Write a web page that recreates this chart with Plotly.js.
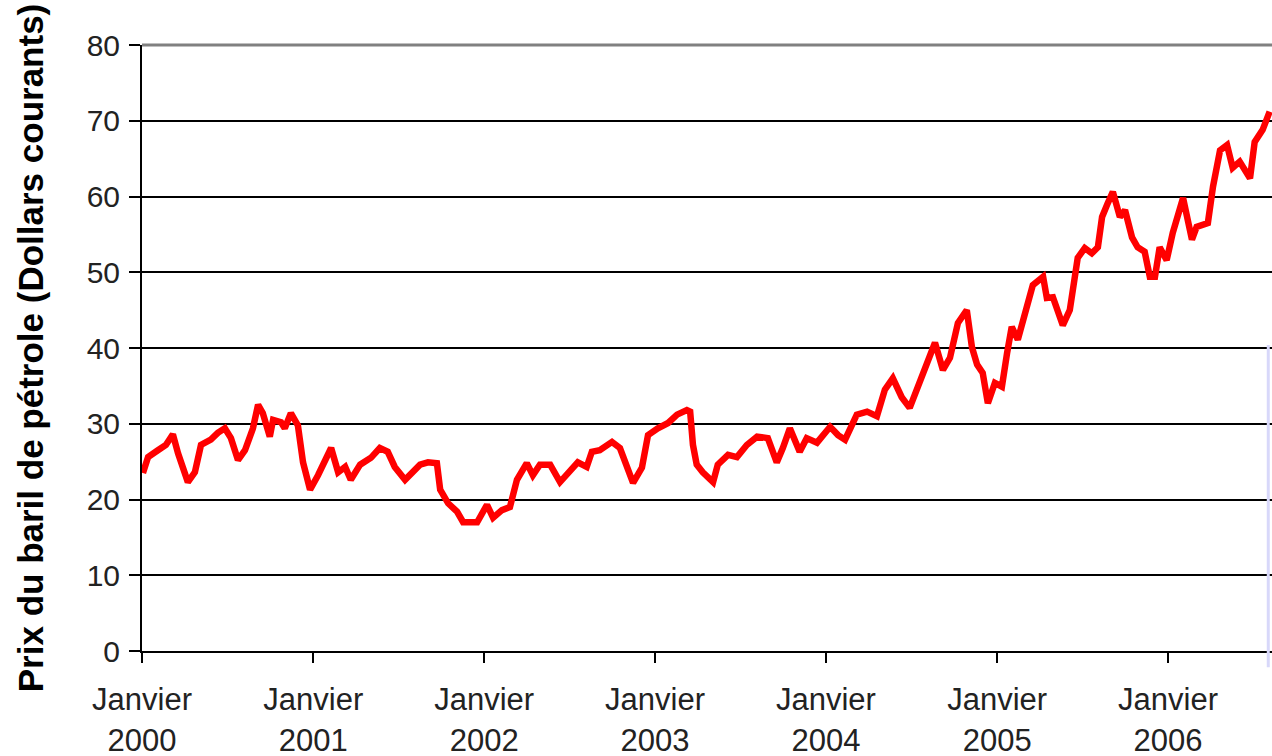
<!DOCTYPE html>
<html>
<head>
<meta charset="utf-8">
<script src="https://cdn.plot.ly/plotly-3.0.1.min.js"></script>
<style>
  html, body { margin: 0; padding: 0; background: #ffffff; }
  #chart { width: 1272px; height: 756px; }
</style>
</head>
<body>
<div id="chart"></div>
<script>
// Prix du baril de pétrole (dollars courants)
const dates = [
  "2000-01-03","2000-01-14","2000-02-04","2000-02-21","2000-03-07","2000-03-18","2000-04-08","2000-04-23",
  "2000-05-06","2000-05-27","2000-06-11","2000-06-26","2000-07-09","2000-07-24","2000-08-08","2000-08-25",
  "2000-09-05","2000-09-15","2000-09-30","2000-10-07","2000-10-24","2000-11-01","2000-11-14","2000-11-29",
  "2000-12-10","2000-12-25","2001-01-11","2001-01-26","2001-02-08","2001-02-23","2001-03-10","2001-03-22",
  "2001-04-11","2001-05-04","2001-05-23","2001-06-09","2001-06-24","2001-07-16","2001-07-31","2001-08-17",
  "2001-09-03","2001-09-22","2001-09-29","2001-10-16","2001-11-04","2001-11-17","2001-12-17","2002-01-07",
  "2002-01-20","2002-02-08","2002-02-25","2002-03-12","2002-04-02","2002-04-15","2002-04-30","2002-05-22",
  "2002-06-12","2002-07-03","2002-07-20","2002-08-08","2002-08-19","2002-09-05","2002-10-01","2002-10-18",
  "2002-11-02","2002-11-15","2002-12-04","2002-12-17","2003-01-07","2003-01-29","2003-02-17","2003-03-10",
  "2003-03-17","2003-03-23","2003-03-31","2003-04-13","2003-05-05","2003-05-15","2003-06-06","2003-06-25",
  "2003-07-16","2003-08-07","2003-08-30","2003-09-18","2003-10-01","2003-10-16","2003-11-06","2003-11-21",
  "2003-12-13","2004-01-10","2004-01-27","2004-02-11","2004-03-07","2004-03-29","2004-04-19","2004-05-06",
  "2004-05-23","2004-06-11","2004-06-28","2004-07-16","2004-08-04","2004-08-21","2004-09-07","2004-09-22",
  "2004-10-09","2004-10-28","2004-11-08","2004-11-19","2004-12-01","2004-12-12","2004-12-27","2005-01-11",
  "2005-01-22","2005-02-01","2005-02-14","2005-03-05","2005-03-18","2005-04-09","2005-04-17","2005-04-30",
  "2005-05-21","2005-06-05","2005-06-16","2005-06-22","2005-07-07","2005-07-22","2005-08-04","2005-08-13",
  "2005-08-25","2005-09-05","2005-09-20","2005-10-01","2005-10-16","2005-10-28","2005-11-12","2005-11-23",
  "2005-12-04","2005-12-14","2005-12-29","2006-01-11","2006-02-02","2006-02-21","2006-03-03","2006-03-27",
  "2006-04-07","2006-04-22","2006-05-07","2006-05-19","2006-06-03","2006-06-25","2006-07-05","2006-07-22",
  "2006-08-06"
];
const prices = [
  23.5,25.6,26.5,27.2,28.6,26.1,22.3,23.6,
  27.2,27.9,28.8,29.4,28.1,25.2,26.5,29.4,
  32.5,31.4,28.3,30.5,30.2,29.4,31.4,29.8,
  24.9,21.3,23.2,24.9,26.8,23.6,24.3,22.6,
  24.6,25.5,26.8,26.3,24.3,22.6,23.6,24.6,
  24.9,24.8,21.3,19.5,18.4,17.0,17.0,19.3,
  17.6,18.6,19.0,22.6,24.8,23.2,24.6,24.6,
  22.3,23.9,24.9,24.3,26.3,26.5,27.6,26.8,
  24.6,22.2,24.2,28.5,29.4,30.1,31.2,31.8,
  31.6,27.2,24.6,23.6,22.3,24.6,25.9,25.6,
  27.2,28.3,28.1,24.9,26.8,29.4,26.3,28.1,
  27.5,29.6,28.5,27.9,31.2,31.6,31.0,34.5,
  36.0,33.5,32.1,34.9,38.0,40.7,37.1,38.7,
  43.3,45.0,40.1,37.8,36.7,32.7,35.4,34.9,
  39.3,42.8,41.1,45.9,48.3,49.4,46.6,46.7,
  43.0,45.0,49.0,51.9,53.2,52.5,53.3,57.3,
  59.1,60.6,57.3,58.2,54.6,53.3,52.7,49.4,
  49.4,53.3,51.6,55.2,59.8,54.3,56.0,56.5,
  61.3,66.1,66.8,63.8,64.6,62.4,67.2,68.8,
  71.2
];
const tickVals = ["2000-01-01","2001-01-01","2002-01-01","2003-01-01","2004-01-01","2005-01-01","2006-01-01"];
const tickText = ["Janvier<br>2000","Janvier<br>2001","Janvier<br>2002","Janvier<br>2003","Janvier<br>2004","Janvier<br>2005","Janvier<br>2006"];
const yTicks = [0,10,20,30,40,50,60,70,80];
const xStart = "2000-01-01";
const xEnd = "2006-08-11";
const yTitle = "Prix du baril de pétrole (Dollars courants)";

const trace = {
  x: dates, y: prices, type: "scatter", mode: "lines",
  line: { color: "#ff0000", width: 6.5 },
  hoverinfo: "skip"
};

const layout = {
  width: 1272, height: 756,
  margin: { l: 142, r: 0, t: 45, b: 105 },
  paper_bgcolor: "#ffffff",
  plot_bgcolor: "#ffffff",
  showlegend: false,
  font: { family: "Liberation Sans, Arial, sans-serif", color: "#222222" },
  xaxis: {
    type: "date",
    range: [xStart, xEnd],
    tickvals: tickVals,
    ticktext: tickText,
    ticks: "outside", ticklen: 10, tickwidth: 2, tickcolor: "#000000",
    ticklabelstandoff: 10,
    showgrid: false, zeroline: false,
    showline: true, linecolor: "#000000", linewidth: 2,
    tickfont: { size: 31, color: "#222222" }
  },
  yaxis: {
    range: [0, 80],
    tickvals: yTicks,
    ticks: "outside", ticklen: 11, tickwidth: 2, tickcolor: "#000000",
    ticklabelstandoff: 3,
    showgrid: true, gridcolor: "#000000", gridwidth: 2,
    zeroline: false,
    showline: true, linecolor: "#000000", linewidth: 2,
    tickfont: { size: 30, color: "#222222" },
    title: { text: yTitle, font: { size: 35, color: "#000000", family: "Liberation Sans, Arial, sans-serif", weight: "bold" }, standoff: 32 }
  },
  shapes: [
    { type: "line", xref: "paper", yref: "paper", x0: 0, x1: 1, y0: 1, y1: 1,
      line: { color: "#808080", width: 3 } },
    { type: "line", xref: "paper", yref: "paper", x0: 0.9967, x1: 0.9967, y0: 0.505, y1: -0.027,
      line: { color: "#d8d8fa", width: 3 } }
  ]
};

Plotly.newPlot("chart", [trace], layout, { staticPlot: true, displayModeBar: false });
</script>
</body>
</html>
